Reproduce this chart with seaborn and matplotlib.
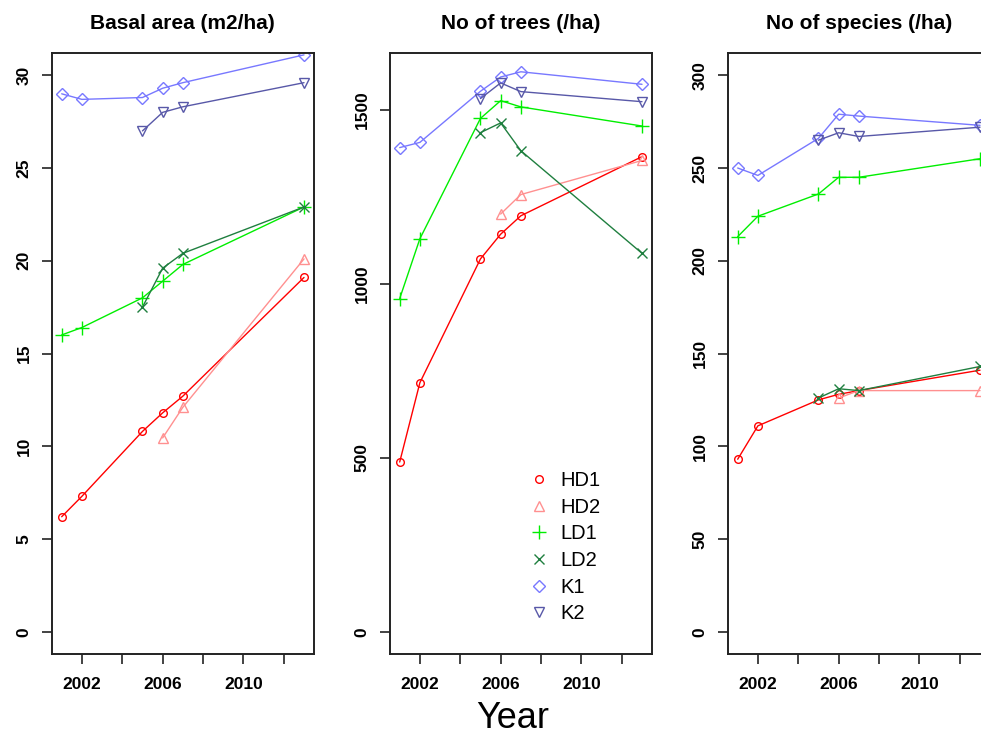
import numpy as np
import pandas as pd
import matplotlib
matplotlib.use("Agg")
import matplotlib.pyplot as plt
from matplotlib.lines import Line2D
import seaborn as sns

years = [2001, 2002, 2005, 2006, 2007, 2013]
series = ["HD1", "HD2", "LD1", "LD2", "K1", "K2"]
nan = np.nan

basal_HD1 = [6.2, 7.3, 10.8, 11.8, 12.7, 19.1]
basal_HD2 = [nan, nan, nan, 10.45, 12.1, 20.1]
basal_LD1 = [16.0, 16.4, 18.0, 18.9, 19.8, 22.9]
basal_LD2 = [nan, nan, 17.5, 19.6, 20.4, 22.9]
basal_K1 = [29.0, 28.7, 28.8, 29.3, 29.6, 31.1]
basal_K2 = [nan, nan, 27.0, 28.0, 28.3, 29.6]

trees_HD1 = [488, 716, 1072, 1143, 1196, 1366]
trees_HD2 = [nan, nan, nan, 1201, 1257, 1355]
trees_LD1 = [958, 1130, 1476, 1527, 1509, 1454]
trees_LD2 = [nan, nan, 1435, 1463, 1383, 1088]
trees_K1 = [1392, 1407, 1554, 1595, 1610, 1574]
trees_K2 = [nan, nan, 1533, 1578, 1553, 1524]

species_HD1 = [93, 111, 125, 128, 130, 141]
species_HD2 = [nan, nan, nan, 126, 130, 130]
species_LD1 = [213, 224, 236, 245, 245, 255]
species_LD2 = [nan, nan, 126, 131, 130, 143]
species_K1 = [250, 246, 266, 279, 278, 273]
species_K2 = [nan, nan, 265, 269, 267, 272]

titles = ["Basal area (m2/ha)", "No of trees (/ha)", "No of species (/ha)"]
yticks_list = [[0, 5, 10, 15, 20, 25, 30], [0, 500, 1000, 1500], [0, 50, 100, 150, 200, 250, 300]]
ylims = [(-1.2, 31.2), (-64, 1664), (-12, 312)]
xticks = [2002, 2004, 2006, 2008, 2010, 2012]
xticklabels = ["2002", "", "2006", "", "2010", ""]

colors = {"HD1": "#FF0000", "HD2": "#FF9090", "LD1": "#00EE00",
          "LD2": "#1F7F3F", "K1": "#7878FF", "K2": "#5858A8"}
markers = {"HD1": "o", "HD2": "^", "LD1": "+", "LD2": "x", "K1": "D", "K2": "v"}
msizes = {"HD1": 5.5, "HD2": 7.5, "LD1": 10, "LD2": 7, "K1": 6.5, "K2": 7.5}

panels = [
    dict(zip(series, [basal_HD1, basal_HD2, basal_LD1, basal_LD2, basal_K1, basal_K2])),
    dict(zip(series, [trees_HD1, trees_HD2, trees_LD1, trees_LD2, trees_K1, trees_K2])),
    dict(zip(series, [species_HD1, species_HD2, species_LD1, species_LD2, species_K1, species_K2])),
]

sns.set_style("white")
plt.rcParams["font.family"] = ["Liberation Sans", "DejaVu Sans"]
plt.rcParams["text.color"] = "black"
plt.rcParams["xtick.color"] = "#222222"
plt.rcParams["ytick.color"] = "#222222"
plt.rcParams["xtick.labelcolor"] = "black"
plt.rcParams["ytick.labelcolor"] = "black"

W, H = 981, 735
fig = plt.figure(figsize=(W / 100, H / 100), dpi=100)

lefts = [52, 390, 728]
aw = 261.7
top, bottom = 53, 654

for i, left in enumerate(lefts):
    ax = fig.add_axes([left / W, (H - bottom) / H, aw / W, (bottom - top) / H])
    rows = []
    for s in series:
        for yr, v in zip(years, panels[i][s]):
            rows.append({"year": yr, "value": v, "series": s})
    df = pd.DataFrame(rows)
    for s in series:
        sub = df[df["series"] == s].dropna()
        sns.lineplot(data=sub, x="year", y="value", ax=ax, color=colors[s],
                     marker=markers[s], markersize=msizes[s], mfc="none",
                     mec=colors[s], mew=1.0, linewidth=1.0, errorbar=None,
                     estimator=None, legend=False)
    ax.set_xlim(2000.52, 2013.48)
    ax.set_ylim(*ylims[i])
    ax.set_xticks(xticks)
    ax.set_xticklabels(xticklabels)
    ax.set_yticks(yticks_list[i])
    ax.set_yticklabels([str(t) for t in yticks_list[i]], rotation=90, va="center")
    ax.tick_params(axis="both", direction="out", length=7.5, width=1.2,
                   bottom=True, left=True, labelsize=12.5, pad=7)
    ax.tick_params(axis="x", pad=9)
    for lab in ax.get_xticklabels() + ax.get_yticklabels():
        lab.set_fontweight("bold")
    ax.set_xlabel("")
    ax.set_ylabel("")
    for sp in ax.spines.values():
        sp.set_visible(True)
        sp.set_color("#222222")
        sp.set_linewidth(1.4)
    ax.set_title(titles[i], fontsize=15, fontweight="bold", pad=17, color="black")

    if i == 1:
        handles = [Line2D([], [], linestyle="none", marker=markers[s], markersize=msizes[s],
                          mfc="none", mec=colors[s], mew=1.0) for s in series]
        ax.legend(handles, series, loc="upper left", bbox_to_anchor=(0.5, 0.318),
                  frameon=False, fontsize=14.5, handlelength=1.0, handletextpad=0.55,
                  labelspacing=0.38, borderaxespad=0)

fig.text(513 / W, (H - 718) / H, "Year", ha="center", va="center", fontsize=26)

fig.savefig("out.png", dpi=100)
